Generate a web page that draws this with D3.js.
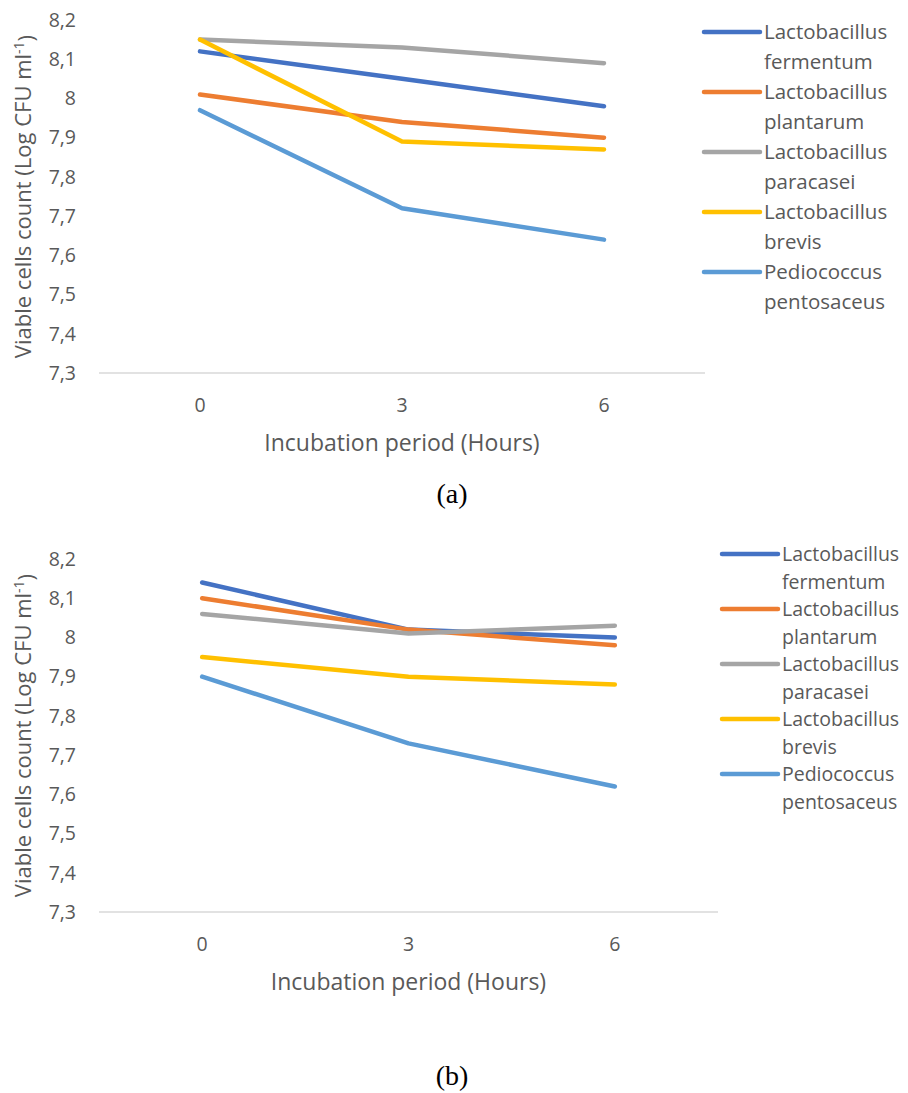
<!DOCTYPE html>
<html>
<head>
<meta charset="utf-8">
<script src="https://cdn.jsdelivr.net/npm/d3@7"></script>
<style>
  body { margin: 0; background: #fff; }
  text { font-family: "Open Sans", sans-serif; fill: #595959; }
</style>
</head>
<body>
<svg id="chart" width="908" height="1093"></svg>
<script>
const hours = ["0", "3", "6"];
const species = [
  ["Lactobacillus", "fermentum"],
  ["Lactobacillus", "plantarum"],
  ["Lactobacillus", "paracasei"],
  ["Lactobacillus", "brevis"],
  ["Pediococcus", "pentosaceus"]
];
const colors = ["#4472C4", "#ED7D31", "#A5A5A5", "#FFC000", "#5B9BD5"];
const yTicks = [7.3, 7.4, 7.5, 7.6, 7.7, 7.8, 7.9, 8.0, 8.1, 8.2];

// panel (a)
const valuesA = [
  [8.12, 8.05, 7.98],
  [8.01, 7.94, 7.90],
  [8.15, 8.13, 8.09],
  [8.15, 7.89, 7.87],
  [7.97, 7.72, 7.64]
];
// panel (b)
const valuesB = [
  [8.14, 8.02, 8.00],
  [8.10, 8.02, 7.98],
  [8.06, 8.01, 8.03],
  [7.95, 7.90, 7.88],
  [7.90, 7.73, 7.62]
];

const svg = d3.select("#chart");

function drawPanel(values, opt) {
  const g = svg.append("g");

  const x = d3.scalePoint()
    .domain(hours)
    .range([opt.left, opt.right])
    .padding(0.5);
  const y = d3.scaleLinear()
    .domain([7.3, 8.2])
    .range([opt.bottom, opt.top]);

  // baseline
  g.append("line")
    .attr("x1", opt.left).attr("x2", opt.right)
    .attr("y1", opt.bottom).attr("y2", opt.bottom)
    .attr("stroke", "#d9d9d9").attr("stroke-width", 1.3);

  // y tick labels
  g.selectAll("text.ytick")
    .data(yTicks)
    .enter()
    .append("text")
    .attr("class", "ytick")
    .attr("x", 76)
    .attr("y", d => y(d))
    .attr("dy", "0.35em")
    .attr("text-anchor", "end")
    .style("font-size", "19.5px")
    .text(d => String(+d.toFixed(1)).replace(".", ","));

  // x tick labels
  g.selectAll("text.xtick")
    .data(hours)
    .enter()
    .append("text")
    .attr("class", "xtick")
    .attr("x", d => x(d))
    .attr("y", opt.bottom + 32)
    .attr("dy", "0.35em")
    .attr("text-anchor", "middle")
    .style("font-size", "19.5px")
    .text(d => d);

  // axis titles
  g.append("text")
    .attr("x", (opt.left + opt.right) / 2)
    .attr("y", opt.bottom + 70)
    .attr("dy", "0.35em")
    .attr("text-anchor", "middle")
    .style("font-size", "23px")
    .text("Incubation period (Hours)");

  const yt = g.append("text")
    .attr("transform", "translate(23," + (opt.top + opt.bottom) / 2 + ") rotate(-90)")
    .attr("dy", "0.35em")
    .attr("text-anchor", "middle")
    .style("font-size", "22px");
  yt.append("tspan").text("Viable cells count (Log CFU ml");
  yt.append("tspan").attr("dy", "-0.45em").style("font-size", "14px").text("-1");
  yt.append("tspan").attr("dy", "0.45em").text(")");

  // series
  const line = d3.line()
    .x((d, i) => x(hours[i]))
    .y(d => y(d));

  g.selectAll("path.series")
    .data(values)
    .enter()
    .append("path")
    .attr("class", "series")
    .attr("d", line)
    .attr("fill", "none")
    .attr("stroke", (d, i) => colors[i])
    .attr("stroke-width", 4.5)
    .attr("stroke-linecap", "round")
    .attr("stroke-linejoin", "round");

  // legend
  const item = g.selectAll("g.legend")
    .data(species)
    .enter()
    .append("g")
    .attr("class", "legend")
    .attr("transform", (d, i) => "translate(" + opt.legX + "," + (opt.legY + i * opt.legStep) + ")");

  item.append("line")
    .attr("x1", 0).attr("x2", 56)
    .attr("stroke", (d, i) => colors[i])
    .attr("stroke-width", 4.5)
    .attr("stroke-linecap", "round");

  item.append("text")
    .attr("x", 60)
    .attr("dy", "0.35em")
    .style("font-size", opt.legFont)
    .text(d => d[0]);
  item.append("text")
    .attr("x", 60)
    .attr("y", opt.legLine)
    .attr("dy", "0.35em")
    .style("font-size", opt.legFont)
    .text(d => d[1]);

  // caption
  svg.append("text")
    .attr("x", 452)
    .attr("y", opt.caption)
    .attr("dy", "0.35em")
    .attr("text-anchor", "middle")
    .style("font-family", "'Liberation Serif', serif")
    .style("font-size", "28px")
    .style("fill", "#000")
    .text(opt.label);
}

drawPanel(valuesA, { left: 99, right: 705, top: 20, bottom: 373, legX: 704, legY: 32, legStep: 60, legLine: 30, legFont: "20.5px", caption: 493, label: "(a)" });
drawPanel(valuesB, { left: 99, right: 718, top: 559, bottom: 912, legX: 722, legY: 554, legStep: 55, legLine: 28, legFont: "19.5px", caption: 1075, label: "(b)" });
</script>
</body>
</html>
